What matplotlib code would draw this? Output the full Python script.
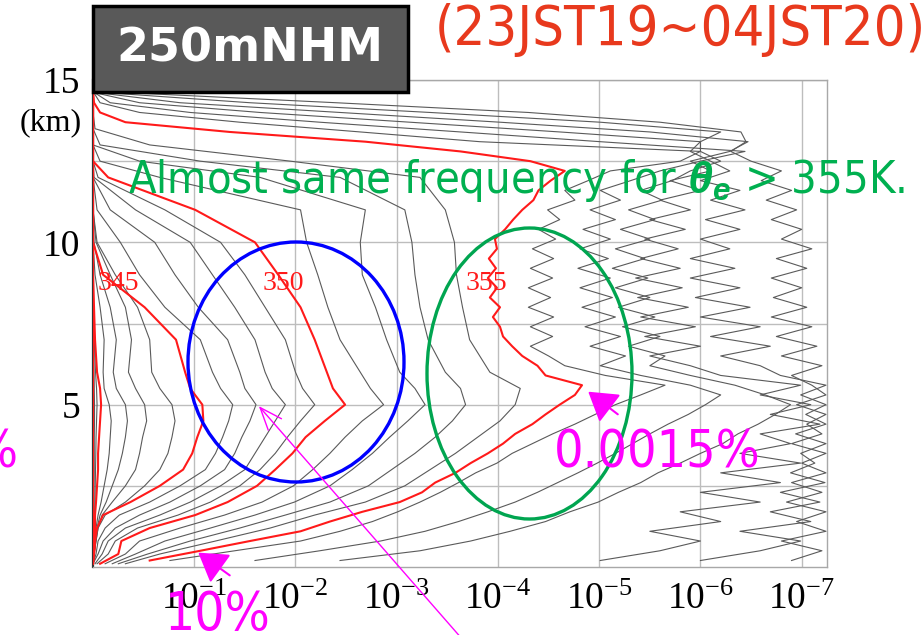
import numpy as np
import matplotlib
matplotlib.use("Agg")
import matplotlib.pyplot as plt
from matplotlib.patches import Ellipse, Rectangle, FancyArrowPatch
from matplotlib.ticker import NullLocator, FixedLocator
from matplotlib import font_manager
from matplotlib.font_manager import FontProperties

# ---------------- data (log10 of frequency) ----------------
heights_km = [0.1, 0.4, 0.8, 1.2, 1.6, 2.0, 2.5, 3.0, 3.5, 4.0, 4.5, 5.0, 5.5, 6.0,
              7.0, 8.0, 9.0, 10.0, 11.0, 12.0, 12.5, 13.0, 13.5, 14.0, 14.5, 15.0]

log_freq_335 = [0.0, 0.0, 0.0, 0.0, 0.0, 0.0, 0.0, 0.0, 0.0, 0.0, 0.0, 0.0, 0.0, 0.0,
                0.0, 0.0, 0.0, 0.0, 0.0, 0.0, 0.0, 0.0, 0.0, 0.0, 0.0, 0.0]
log_freq_338 = [0.0, -0.003, -0.005, -0.006, -0.008, -0.01, -0.01, -0.012, -0.012, -0.012, -0.015, -0.015, -0.012, -0.01,
                -0.006, -0.003, 0.0, 0.0, 0.0, 0.0, 0.0, 0.0, 0.0, 0.0, 0.0, 0.0]
log_freq_339 = [0.0, -0.006, -0.01, -0.012, -0.015, -0.02, -0.022, -0.025, -0.028, -0.03, -0.035, -0.04, -0.035, -0.025,
                -0.012, -0.005, 0.0, 0.0, 0.0, 0.0, 0.0, 0.0, 0.0, 0.0, 0.0, 0.0]
log_freq_340 = [0.0, -0.01, -0.02, -0.02, -0.02, -0.03, -0.04, -0.05, -0.05, -0.06, -0.07, -0.08, -0.07, -0.04,
                -0.02, -0.01, 0.0, 0.0, 0.0, 0.0, 0.0, 0.0, 0.0, 0.0, 0.0, 0.0]
log_freq_341 = [0.0, -0.01, -0.02, -0.03, -0.05, -0.08, -0.11, -0.14, -0.16, -0.17, -0.18, -0.16, -0.11, -0.10,
                -0.11, -0.07, -0.02, 0.0, 0.0, 0.0, 0.0, 0.0, 0.0, 0.0, 0.0, 0.0]
log_freq_342 = [0.0, -0.01, -0.02, -0.04, -0.07, -0.13, -0.19, -0.25, -0.29, -0.32, -0.34, -0.32, -0.23, -0.20,
                -0.23, -0.17, -0.07, -0.01, 0.0, 0.0, 0.0, 0.0, 0.0, 0.0, 0.0, 0.0]
log_freq_343 = [0.0, -0.01, -0.03, -0.05, -0.09, -0.19, -0.32, -0.42, -0.46, -0.49, -0.53, -0.51, -0.42, -0.35,
                -0.38, -0.32, -0.17, -0.03, 0.0, 0.0, 0.0, 0.0, 0.0, 0.0, 0.0, 0.0]
log_freq_344 = [0.0, -0.01, -0.03, -0.05, -0.12, -0.32, -0.51, -0.66, -0.74, -0.78, -0.81, -0.78, -0.66, -0.58,
                -0.56, -0.44, -0.22, -0.04, 0.0, 0.0, 0.0, 0.0, 0.0, 0.0, 0.0, 0.0]
log_freq_345 = [0.0, -0.01, -0.02, -0.04, -0.10, -0.37, -0.66, -0.89, -0.98, -1.03, -1.09, -1.08, -0.96, -0.91,
                -0.82, -0.51, -0.10, 0.0, 0.0, 0.0, 0.0, 0.0, 0.0, 0.0, 0.0, 0.0]
log_freq_346 = [0.0, -0.03, -0.05, -0.12, -0.26, -0.56, -0.86, -1.11, -1.21, -1.28, -1.34, -1.38, -1.26, -1.18,
                -1.06, -0.71, -0.46, -0.27, -0.04, 0.0, 0.0, 0.0, 0.0, 0.0, 0.0, 0.0]
log_freq_347 = [0.0, -0.05, -0.10, -0.22, -0.46, -0.76, -1.06, -1.30, -1.40, -1.47, -1.55, -1.61, -1.50, -1.45,
                -1.33, -1.04, -0.81, -0.61, -0.17, 0.0, 0.0, 0.0, 0.0, 0.0, 0.0, 0.0]
log_freq_348 = [-0.02, -0.09, -0.15, -0.32, -0.66, -0.96, -1.26, -1.50, -1.60, -1.70, -1.80, -1.90, -1.77, -1.70,
                -1.60, -1.40, -1.18, -0.96, -0.42, -0.01, 0.0, 0.0, 0.0, 0.0, 0.0, 0.0]
log_freq_349 = [-0.04, -0.15, -0.22, -0.44, -0.84, -1.16, -1.45, -1.65, -1.80, -1.92, -2.05, -2.19, -2.07, -2.00,
                -1.90, -1.70, -1.50, -1.26, -0.71, -0.05, 0.0, 0.0, 0.0, 0.0, 0.0, 0.0]
log_freq_350 = [-0.07, -0.25, -0.28, -0.56, -1.01, -1.33, -1.62, -1.80, -1.97, -2.10, -2.29, -2.49, -2.37, -2.31,
                -2.19, -2.05, -1.83, -1.60, -1.01, -0.15, 0.0, 0.0, 0.0, 0.0, 0.0, 0.0]
log_freq_351 = [-0.12, -0.32, -0.46, -0.86, -1.30, -1.67, -1.98, -2.17, -2.34, -2.49, -2.66, -2.87, -2.74, -2.64,
                -2.44, -2.32, -2.22, -2.11, -2.05, -0.66, -0.07, 0.0, 0.0, 0.0, 0.0, 0.0]
log_freq_352 = [-0.19, -0.42, -0.71, -1.16, -1.60, -1.99, -2.34, -2.56, -2.76, -2.93, -3.11, -3.28, -3.18, -3.03,
                -2.90, -2.79, -2.66, -2.64, -2.69, -1.65, -0.46, 0.0, 0.0, 0.0, 0.0, 0.0]
log_freq_353 = [-0.25, -0.54, -0.96, -1.45, -1.90, -2.34, -2.72, -2.95, -3.18, -3.38, -3.55, -3.68, -3.63, -3.48,
                -3.31, -3.23, -3.18, -3.15, -3.08, -2.44, -1.06, -0.07, 0.0, 0.0, 0.0, 0.0]
log_freq_354 = [-0.32, -0.66, -1.21, -1.75, -2.19, -2.69, -3.08, -3.33, -3.58, -3.80, -4.02, -4.17, -4.22, -3.92,
                -3.72, -3.65, -3.59, -3.57, -3.48, -3.23, -1.95, -0.56, -0.02, 0.0, 0.0, 0.0]

heights_fine_km = [0.2, 0.5, 0.8, 1.1, 1.4, 1.7, 2.0, 2.3, 2.6, 2.9, 3.2, 3.5, 3.8, 4.1, 4.4, 4.7,
                   5.0, 5.3, 5.6, 5.9, 6.2, 6.5, 6.8, 7.1, 7.4, 7.7, 8.0, 8.3, 8.6, 8.9, 9.2, 9.5,
                   9.8, 10.1, 10.4, 10.7, 11.0, 11.3, 11.6, 11.9, 12.2, 12.5, 12.8, 13.1, 13.4, 13.7,
                   14.0, 14.3, 14.6]

log_freq_355 = [-0.56, -1.06, -1.55, -2.05, -2.34, -2.66, -3.03, -3.25, -3.38, -3.58, -3.73, -3.90, -4.05, -4.17,
                -4.34, -4.47, -4.61, -4.76, -4.83, -4.47, -4.39, -4.24, -4.14, -4.05, -4.02, -3.95, -4.02, -3.92,
                -3.99, -3.90, -3.98, -3.91, -3.99, -3.97, -4.07, -4.15, -4.24, -4.35, -4.40, -4.52, -4.66, -4.32,
                -3.63, -2.69, -1.35, -0.32, -0.07, -0.01, 0.0]
log_freq_356 = [-0.76, -1.40, -2.05, -2.44, -2.76, -3.01, -3.23, -3.43, -3.61, -3.78, -3.99, -4.14, -4.34, -4.54,
                -4.76, -4.96, -5.16, -5.41, -5.65, -5.06, -4.66, -4.50, -4.32, -4.54, -4.32, -4.55, -4.30, -4.52,
                -4.30, -4.54, -4.32, -4.55, -4.34, -4.57, -4.40, -4.61, -4.49, -4.76, -4.66, -4.89, -5.11, -5.80,
                -6.00, -3.82, -2.64, -1.45, -0.46, -0.07, -0.01]
log_freq_357 = [-1.60, -2.24, -2.84, -3.28, -3.61, -3.90, -4.17, -4.39, -4.59, -4.79, -4.98, -5.16, -5.33, -5.50,
                -5.68, -5.88, -6.05, -6.20, -5.90, -5.41, -5.01, -5.26, -4.91, -5.21, -4.86, -5.16, -4.83, -5.13,
                -4.81, -5.11, -4.79, -5.09, -4.81, -5.11, -4.84, -5.16, -4.91, -5.21, -5.01, -5.31, -5.60, -6.00,
                -6.44, -5.01, -3.63, -2.24, -0.96, -0.17, -0.02]
log_freq_358 = [-2.44, -3.23, -3.73, -4.12, -4.47, -4.71, -4.99, -5.19, -5.41, -5.58, -5.80, -6.00, -6.22, -6.37,
                -6.57, -6.74, -6.89, -6.64, -6.34, -5.90, -5.50, -5.65, -5.29, -5.60, -5.23, -5.55, -5.19, -5.50,
                -5.16, -5.48, -5.13, -5.45, -5.16, -5.50, -5.21, -5.55, -5.29, -5.62, -5.41, -5.72, -5.90, -6.20,
                -6.00, -6.00, -4.61, -3.13, -1.65, -0.46, -0.03]
log_freq_359 = [-5.01, -5.60, -6.00, -5.50, -6.20, -5.80, -6.59, -6.00, -6.79, -6.20, -6.99, -6.39, -6.89, -6.59,
                -7.18, -6.69, -7.09, -6.59, -6.99, -6.20, -5.90, -5.50, -6.00, -5.45, -5.95, -5.41, -5.88, -5.38,
                -5.82, -5.36, -5.80, -5.41, -5.78, -5.45, -5.85, -5.50, -5.90, -5.60, -6.00, -5.70, -6.10, -5.90,
                -6.29, -6.47, -5.50, -4.02, -2.44, -0.86, -0.07]
log_freq_360 = [-6.00, -6.59, -6.99, -6.39, -7.09, -6.69, -7.18, -6.79, -7.23, -6.89, -7.13, -6.99, -7.24, -6.94,
                -7.24, -7.04, -7.24, -6.99, -7.24, -6.79, -6.59, -6.20, -6.69, -6.10, -6.59, -6.00, -6.49, -5.95,
                -6.39, -5.90, -6.34, -5.90, -6.29, -6.00, -6.39, -6.05, -6.44, -6.10, -6.39, -6.00, -6.29, -6.10,
                -5.90, -6.00, -6.20, -5.01, -3.33, -1.55, -0.17]
log_freq_361 = [-6.90, -7.20, -6.80, -7.24, -6.95, -7.24, -6.85, -7.20, -6.90, -7.24, -7.00, -7.24, -6.90, -7.20,
                -7.05, -7.24, -6.95, -7.24, -7.10, -6.90, -7.20, -6.80, -7.15, -6.75, -7.10, -6.70, -7.05, -6.72,
                -7.00, -6.70, -7.05, -6.75, -7.10, -6.80, -7.00, -6.70, -6.95, -6.65, -6.90, -6.60, -6.80, -6.50,
                -6.30, -6.45, -6.40, -5.60, -4.30, -2.40, -0.40]

x_tick_exponents = [-1, -2, -3, -4, -5, -6, -7]
y_tick_values = [2.5, 5, 7.5, 10, 12.5, 15]
y_tick_labels = ["", "5", "", "10", "", "15"]

# ---------------- fonts ----------------
narrow_path = None
for f in font_manager.fontManager.ttflist:
    nm = f.name.lower()
    st = str(f.stretch).lower()
    if ("narrow" in nm or "condensed" in nm or "condensed" in st) and f.style == "normal" \
            and f.weight in (400, "normal", "regular") and "mono" not in nm and "serif" not in nm:
        narrow_path = f.fname
        break


def narrow_fp(size):
    if narrow_path:
        return FontProperties(fname=narrow_path, size=size)
    return FontProperties(family="Liberation Sans", size=size)


SERIF = "Liberation Serif"
plt.rcParams["mathtext.fontset"] = "custom"
plt.rcParams["mathtext.it"] = "Liberation Sans:italic:bold"
plt.rcParams["mathtext.rm"] = "Liberation Sans"

W, H = 924, 635
fig = plt.figure(figsize=(W / 100, H / 100), dpi=100)
fig.patch.set_facecolor("white")


def fx(px):
    return px / W


def fy(py):
    return 1 - py / H


ax = fig.add_axes([fx(93), fy(567), (827 - 93) / W, (567 - 80) / H])
ax.set_xscale("log")
ax.set_xlim(1.0, 10 ** -7.25)
ax.set_ylim(0, 15)

ax.xaxis.set_major_locator(FixedLocator([10.0 ** e for e in x_tick_exponents]))
ax.xaxis.set_minor_locator(NullLocator())
ax.set_xticklabels([r"$\mathregular{10^{%d}}$" % e for e in x_tick_exponents],
                   fontsize=27, family=SERIF)
ax.set_yticks(y_tick_values)
ax.set_yticklabels(y_tick_labels, fontsize=27, family=SERIF)
ax.tick_params(axis="both", length=0)
ax.tick_params(axis="x", pad=11)
ax.tick_params(axis="y", pad=9)
ax.grid(True, color="#bdbdbd", lw=1.0)
ax.set_axisbelow(True)
for side in ("top", "right", "bottom"):
    ax.spines[side].set_color("#a8a8a8")
    ax.spines[side].set_linewidth(1.0)
ax.spines["left"].set_color("#333333")
ax.spines["left"].set_linewidth(1.6)

GRAY = "#5a5a5a"
RED = "#ff1a1a"
coarse = [log_freq_338, log_freq_339, log_freq_341, log_freq_342, log_freq_343, log_freq_344,
          log_freq_346, log_freq_347, log_freq_348, log_freq_349, log_freq_351, log_freq_352,
          log_freq_353, log_freq_354]
for lf in coarse:
    ax.plot(10.0 ** np.array(lf), heights_km, color=GRAY, lw=0.8, zorder=3)
fine = [log_freq_356, log_freq_357, log_freq_358, log_freq_359, log_freq_360, log_freq_361]
for lf in fine:
    ax.plot(10.0 ** np.array(lf), heights_fine_km, color=GRAY, lw=0.8, zorder=3)
for lf in (log_freq_335, log_freq_340, log_freq_345, log_freq_350):
    ax.plot(10.0 ** np.array(lf), heights_km, color=RED, lw=1.5, zorder=4)
ax.plot(10.0 ** np.array(log_freq_355), heights_fine_km, color=RED, lw=1.5, zorder=4)

# curve labels
for txt, px, py in (("345", 118, 283), ("350", 283, 283), ("355", 486, 283)):
    fig.text(fx(px), fy(py), txt, color=RED, fontsize=20, family=SERIF,
             ha="center", va="center", zorder=6)

fig.text(fx(51), fy(123), "(km)", fontsize=23, family=SERIF, ha="center", va="center")

# title box
fig.add_artist(Rectangle((fx(93), fy(92)), (408 - 93) / W, (92 - 6) / H,
                         transform=fig.transFigure, fc="#595959", ec="black", lw=2.5, zorder=5))

renderer = fig.canvas.get_renderer()


def fit(t, target_px):
    w = t.get_window_extent(renderer).width
    t.set_fontsize(t.get_fontsize() * target_px / w)


t = fig.text(fx(250), fy(49), "250mNHM", color="white", fontsize=36, fontweight="bold",
             family="DejaVu Sans", ha="center", va="center", zorder=6)
fit(t, 267)

t = fig.text(fx(435), fy(45), "(23JST19~04JST20)", color="#e8391d",
             fontproperties=narrow_fp(40), ha="left", va="baseline", zorder=6)
fit(t, 490)

t = fig.text(fx(128), fy(193), r"Almost same frequency for $\theta_e$ > 355K.", color="#00b050",
             fontproperties=narrow_fp(36), ha="left", va="baseline", zorder=6)
fit(t, 777)

# ellipses
fig.add_artist(Ellipse((fx(296), fy(362)), 216 / W, 240 / H, transform=fig.transFigure,
                       fill=False, ec="#0000ff", lw=2.4, zorder=6))
fig.add_artist(Ellipse((fx(529.5), fy(373.5)), 205 / W, 291 / H, transform=fig.transFigure,
                       fill=False, ec="#00a550", lw=2.4, zorder=6))

# magenta annotations
MAG = "#ff00ff"
fig.add_artist(FancyArrowPatch((fx(232), fy(577)), (fx(196), fy(551)), transform=fig.transFigure,
                               arrowstyle="-|>,head_length=0.8,head_width=0.5", mutation_scale=22,
                               color=MAG, lw=1.5, zorder=7))
fig.add_artist(FancyArrowPatch((fx(620), fy(416)), (fx(586), fy(390)), transform=fig.transFigure,
                               arrowstyle="-|>,head_length=0.8,head_width=0.5", mutation_scale=22,
                               color=MAG, lw=1.5, zorder=7))
fig.add_artist(FancyArrowPatch((fx(463), fy(640)), (fx(257), fy(404)), transform=fig.transFigure,
                               arrowstyle="->,head_length=0.9,head_width=0.35", mutation_scale=18,
                               color=MAG, lw=1.0, zorder=7))
t = fig.text(fx(165), fy(630), "10%", color=MAG, fontproperties=narrow_fp(45), ha="left",
             va="baseline", zorder=8)
fit(t, 106)
t = fig.text(fx(554), fy(468), "0.0015%", color=MAG, fontproperties=narrow_fp(45), ha="left",
             va="baseline", zorder=8)
fit(t, 206)
t = fig.text(fx(17), fy(467), "%", color=MAG, fontproperties=narrow_fp(45), ha="right",
             va="baseline", zorder=8)
t.set_fontsize(fig.texts[-2].get_fontsize())

fig.savefig("out.png", dpi=100, facecolor="white")
